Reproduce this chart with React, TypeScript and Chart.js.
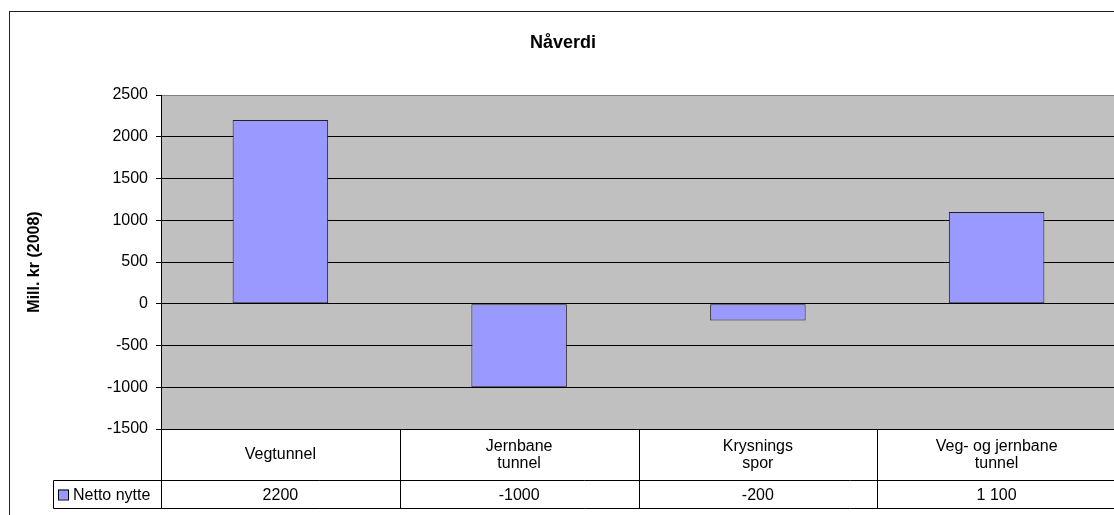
import React, { useEffect, useRef } from "react";
import { Chart, registerables } from "chart.js";

Chart.register(...registerables);

const chartTitle = "Nåverdi";
const yAxisTitle = "Mill. kr (2008)";
const seriesName = "Netto nytte";
const categories: string[][] = [
  ["Vegtunnel"],
  ["Jernbane", "tunnel"],
  ["Krysnings", "spor"],
  ["Veg- og jernbane", "tunnel"],
];
const values = [2200, -1000, -200, 1100];
const valueLabels = ["2200", "-1000", "-200", "1 100"];
const yMin = -1500;
const yMax = 2500;
const yStep = 500;

const W = 1124;
const H = 520;
const FONT = "'Liberation Sans', Arial, sans-serif";

export default function App() {
  const ref = useRef<HTMLCanvasElement | null>(null);

  useEffect(() => {
    document.body.style.margin = "0";
    const canvas = ref.current!;
    const decor = {
      id: "decor",
      beforeDraw(chart: any) {
        const { ctx, chartArea } = chart;
        ctx.save();
        ctx.fillStyle = "#ffffff";
        ctx.fillRect(0, 0, chart.width, chart.height);
        ctx.fillStyle = "#c0c0c0";
        ctx.fillRect(chartArea.left, chartArea.top, chartArea.right - chartArea.left, chartArea.bottom - chartArea.top);
        ctx.restore();
      },
      afterDraw(chart: any) {
        const { ctx, chartArea } = chart;
        const x = chart.scales.x;
        const n = categories.length;
        const half = (x.getPixelForValue(1) - x.getPixelForValue(0)) / 2;
        const top = Math.round(chartArea.bottom) + 0.5;
        const row1 = top + 51;
        const row2 = row1 + 28;
        const legendLeft = 53.5;
        const left = Math.round(chartArea.left) + 0.5;
        const right = chartArea.right;
        ctx.save();
        ctx.strokeStyle = "#000000";
        ctx.lineWidth = 1;
        ctx.beginPath();
        ctx.moveTo(left, top);
        ctx.lineTo(right, top);
        ctx.moveTo(legendLeft, row1);
        ctx.lineTo(right, row1);
        ctx.moveTo(legendLeft, row2);
        ctx.lineTo(right, row2);
        ctx.moveTo(left, top);
        ctx.lineTo(left, row2);
        ctx.moveTo(legendLeft, row1);
        ctx.lineTo(legendLeft, row2);
        for (let i = 0; i < n; i++) {
          const b = Math.round(x.getPixelForValue(i) + half) + 0.5;
          ctx.moveTo(b, top);
          ctx.lineTo(b, row2);
        }
        ctx.stroke();

        ctx.fillStyle = "#000000";
        ctx.font = `16px ${FONT}`;
        ctx.textAlign = "center";
        ctx.textBaseline = "middle";
        const lh = 17;
        for (let i = 0; i < n; i++) {
          const cx = x.getPixelForValue(i);
          const lines = categories[i];
          const mid = (top + row1) / 2;
          lines.forEach((t, k) => {
            const y = mid + (k - (lines.length - 1) / 2) * lh;
            ctx.fillText(t, cx, y);
          });
          ctx.fillText(valueLabels[i], cx, (row1 + row2) / 2 + 1);
        }
        const ly = (row1 + row2) / 2;
        ctx.fillStyle = "#9999ff";
        ctx.fillRect(58, ly - 5, 10, 10);
        ctx.strokeStyle = "#000000";
        ctx.strokeRect(58.5, ly - 4.5, 10, 10);
        ctx.fillStyle = "#000000";
        ctx.textAlign = "left";
        ctx.fillText(seriesName, 73, ly + 1);

        ctx.font = `bold 18px ${FONT}`;
        ctx.textAlign = "center";
        ctx.fillText(chartTitle, (9 + right + 1) / 2, 43);

        ctx.strokeStyle = "#222222";
        ctx.strokeRect(9.5, 11.5, chart.width, chart.height);
        ctx.restore();
      },
    };

    const chart = new Chart(canvas, {
      type: "bar",
      data: {
        labels: categories.map((c) => c.join(" ")),
        datasets: [
          {
            label: seriesName,
            data: values,
            backgroundColor: "#9999ff",
            borderColor: "#222222",
            borderWidth: 1,
            borderSkipped: false,
            barPercentage: 0.4,
            categoryPercentage: 1,
          },
        ],
      },
      options: {
        responsive: false,
        animation: false,
        layout: { padding: { top: 95, bottom: H - 429, left: 0, right: W - 1116 } },
        plugins: {
          legend: { display: false },
          title: { display: false },
          tooltip: { enabled: false },
        },
        scales: {
          x: { display: false },
          y: {
            min: yMin,
            max: yMax,
            afterFit(scale: any) {
              scale.width = 161;
            },
            ticks: {
              stepSize: yStep,
              padding: 8,
              color: "#000000",
              font: { family: FONT, size: 16 },
              callback: (v: any) => String(v),
            },
            grid: {
              color: (c: any) => (c.tick && c.tick.value === yMax ? "#808080" : "#000000"),
              lineWidth: 1,
              drawTicks: true,
              tickLength: 5,
              tickColor: "#000000",
            },
            border: { display: true, color: "#000000", width: 1 },
            title: {
              display: true,
              text: yAxisTitle,
              color: "#000000",
              font: { family: FONT, size: 16, weight: "bold" },
              padding: { top: 25, bottom: 0 },
            },
          },
        },
      },
      plugins: [decor],
    });
    return () => chart.destroy();
  }, []);

  return (
    <div style={{ width: 1114, height: 515, overflow: "hidden", position: "relative" }}>
      <canvas ref={ref} width={W} height={H} style={{ width: W, height: H, display: "block" }} />
    </div>
  );
}
